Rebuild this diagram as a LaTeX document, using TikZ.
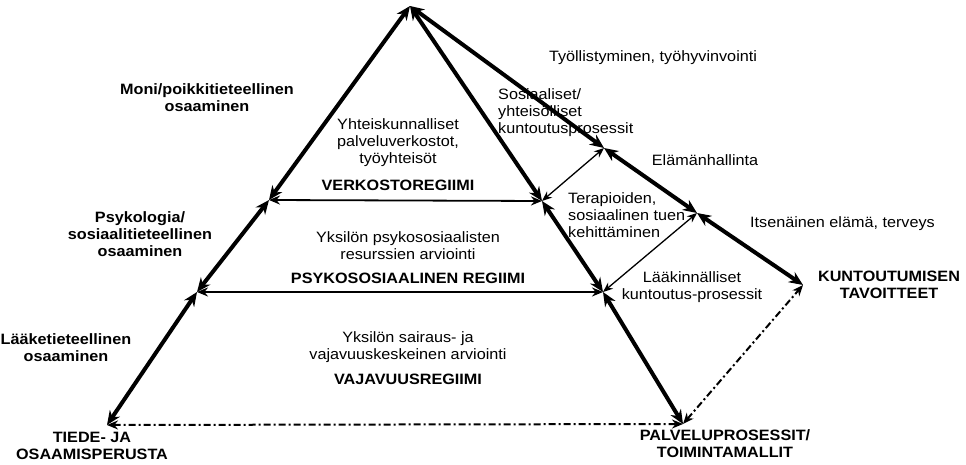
\documentclass[tikz,border=0pt]{standalone}
\usepackage{fontspec}
\setmainfont{Liberation Sans}[FakeStretch=1.08]
\usetikzlibrary{arrows.meta}
\tikzset{
  lbl/.style={font=\fontsize{15}{17}\selectfont, align=center, inner sep=0pt},
  lbll/.style={font=\fontsize{15}{17}\selectfont, align=left, inner sep=0pt, anchor=west},
  blbl/.style={font=\fontsize{15}{17}\selectfont\bfseries, align=center, inner sep=0pt},
  bigedge/.style={line width=4pt, {Stealth[length=14pt,width=12pt]}-{Stealth[length=14pt,width=12pt]}},
  hline/.style={line width=1.8pt, {Stealth[length=11pt,width=9pt]}-{Stealth[length=11pt,width=9pt]}},
  dline/.style={line width=1.3pt, {Stealth[length=10pt,width=8pt]}-{Stealth[length=10pt,width=8pt]}},
  ddline/.style={line width=2pt, dash pattern=on 7pt off 3pt on 2pt off 3pt, {Stealth[length=11pt,width=9pt]}-{Stealth[length=11pt,width=9pt]}}
}
\begin{document}
\begin{tikzpicture}[x=1pt,y=-1pt]
\useasboundingbox (0,0) rectangle (966,465);
% key points
\coordinate (A) at (410,6);
\coordinate (L1) at (269,200);
\coordinate (L2) at (197,292);
\coordinate (L3) at (107,425);
\coordinate (M1) at (542,201);
\coordinate (M2) at (603,292);
\coordinate (M3) at (683,424);
\coordinate (R1) at (604,148);
\coordinate (R2) at (697,213);
\coordinate (R3) at (803,285);
% texts
\node[lbl] (t1) at (653,58) {Työllistyminen, työhyvinvointi};
\node[blbl] (t2) at (207,98) {Moni/poikkitieteellinen\\osaaminen};
\node[lbll] (t3) at (498,113) {Sosiaaliset/\\yhteisölliset\\kuntoutusprosessit};
\node[lbl] (t4) at (398,143) {Yhteiskunnalliset\\palveluverkostot,\\työyhteisöt};
\node[blbl] (t5) at (398,185) {VERKOSTOREGIIMI};
\node[lbl] (t6) at (705,160) {Elämänhallinta};
\node[lbll] (t7) at (568,215) {Terapioiden,\\sosiaalinen tuen\\kehittäminen};
\node[lbll] (t8) at (750,224) {Itsenäinen elämä, terveys};
\node[blbl] (t9) at (140,234) {Psykologia/\\sosiaalitieteellinen\\osaaminen};
\node[lbl] (t10) at (408,246) {Yksilön psykososiaalisten\\resurssien arviointi};
\node[blbl] (t11) at (408,278) {PSYKOSOSIAALINEN REGIIMI};
\node[blbl] (t12) at (889,285) {KUNTOUTUMISEN\\TAVOITTEET};
\node[lbl] (t13) at (692,287) {Lääkinnälliset\\kuntoutus-prosessit};
\node[blbl] (t14) at (66,348) {Lääketieteellinen\\osaaminen};
\node[lbl] (t15) at (408,347) {Yksilön sairaus- ja\\vajavuuskeskeinen arviointi};
\node[blbl] (t16) at (408,379) {VAJAVUUSREGIIMI};
\node[blbl] (t17) at (92,446) {TIEDE- JA\\OSAAMISPERUSTA};
\node[blbl] (t18) at (725,444) {PALVELUPROSESSIT/\\TOIMINTAMALLIT};
% connectors
\draw[ddline] (L3) -- (M3);
\draw[ddline] (M3) -- (R3);
\draw[hline] (L1) -- (M1);
\draw[hline] (L2) -- (M2);
\draw[dline] (M1) -- (R1);
\draw[dline] (M2) -- (R2);
\draw[bigedge] (A) -- (L1);
\draw[bigedge] (L1) -- (L2);
\draw[bigedge] (L2) -- (L3);
\draw[bigedge] (A) -- (M1);
\draw[bigedge] (M1) -- (M2);
\draw[bigedge] (M2) -- (M3);
\draw[bigedge] (A) -- (R1);
\draw[bigedge] (R1) -- (R2);
\draw[bigedge] (R2) -- (R3);
\end{tikzpicture}
\end{document}
